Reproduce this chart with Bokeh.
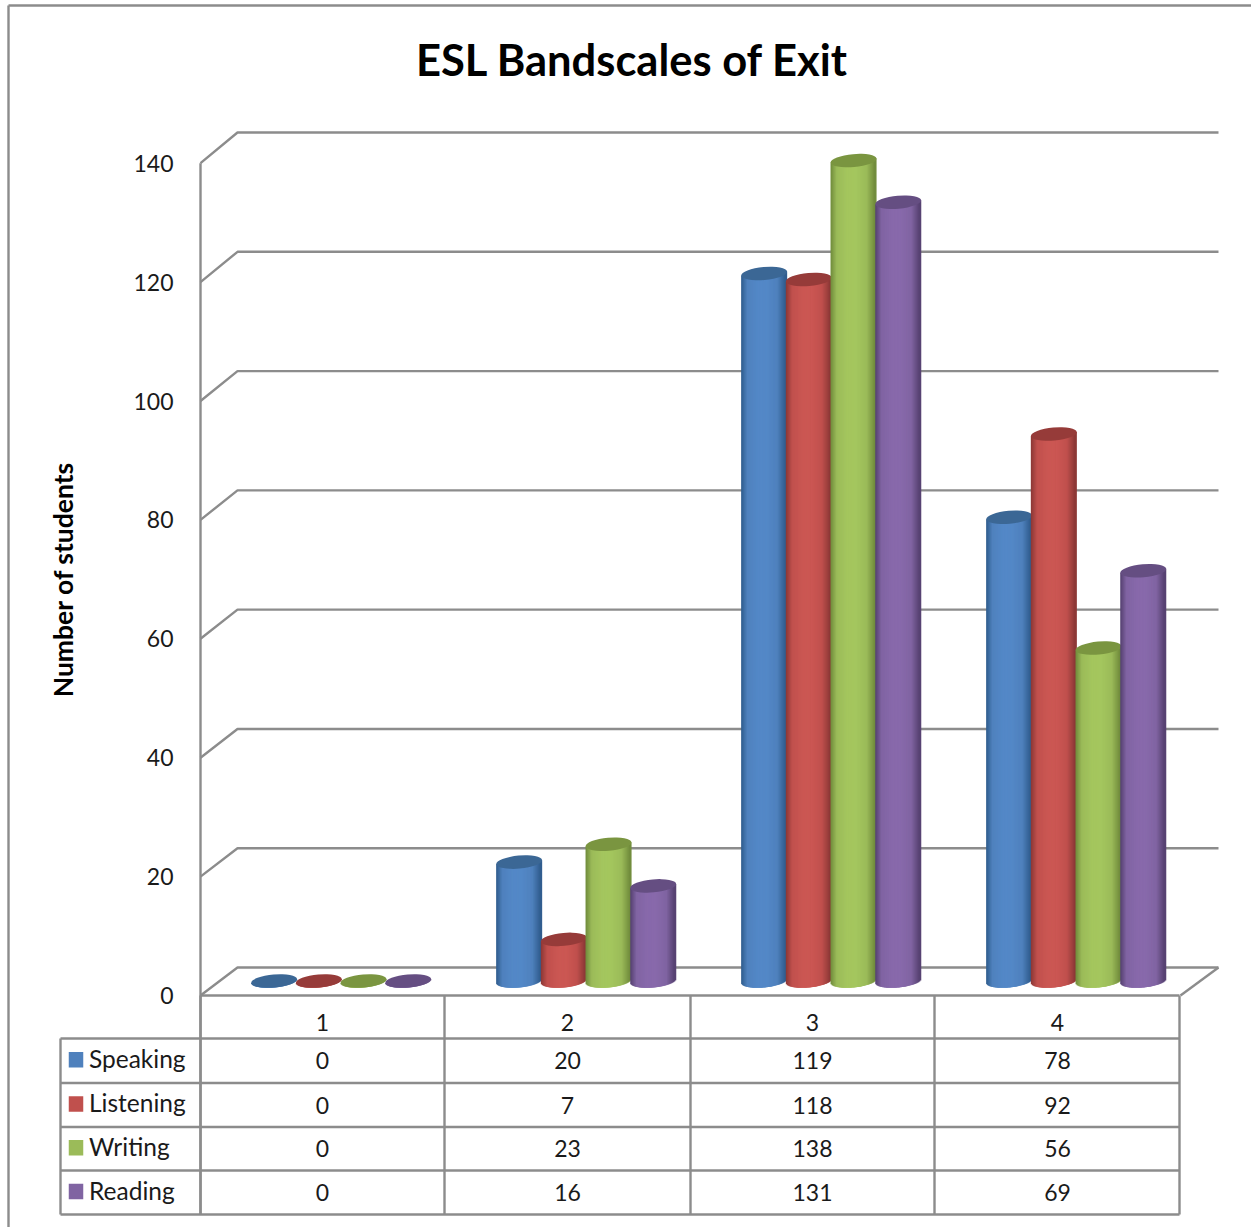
from bokeh.core.properties import value
from bokeh.embed import file_html
from bokeh.models import FixedTicker, LinearAxis, Range1d
from bokeh.plotting import figure
from bokeh.resources import INLINE
import numpy as np

# Chart data
title = "ESL Bandscales of Exit"
y_title = "Number of students"
bands = ["1", "2", "3", "4"]
speaking = [0, 20, 119, 78]
listening = [0, 7, 118, 92]
writing = [0, 23, 138, 56]
reading = [0, 16, 131, 69]
series_names = ["Speaking", "Listening", "Writing", "Reading"]
y_ticks = [0, 20, 40, 60, 80, 100, 120, 140]

series_values = [speaking, listening, writing, reading]
base_colors = ["#4f81bd", "#c0504d", "#9bbb59", "#8064a2"]
light_colors = ["#5388c7", "#cb5753", "#a4c65e", "#8869ab"]
edge_colors = ["#2f5b8c", "#8a3735", "#6f8a3b", "#54406f"]
cap_colors = ["#3b6795", "#963b39", "#7a9540", "#654e82"]

WIDTH, HEIGHT = 1251, 1227
PX_PER_BAND = 245.0
BAND1_PX = 322.0
PX_PER_UNIT = 5.945
ZERO_PX = 995.0
GRID = "#8c8c8c"
FONT = "Lato"
INK = "#1a1a1a"


def x_of(px):
    return 1 + (px - BAND1_PX) / PX_PER_BAND


def y_of(px):
    return (ZERO_PX - px) / PX_PER_UNIT


p = figure(
    width=WIDTH, height=HEIGHT, output_backend="svg", toolbar_location=None,
    x_range=Range1d(x_of(0), x_of(WIDTH)), y_range=Range1d(y_of(HEIGHT), y_of(0)),
    min_border=0, tools="", x_axis_type=None, y_axis_type=None,
    background_fill_color="white", border_fill_color="white", outline_line_color=None,
)
p.grid.visible = False


def rule(xs, ys, width=2.4):
    p.line([x_of(x) for x in xs], [y_of(y) for y in ys], line_color=GRID, line_width=width)


# Outer chart border
rule([8, 8], [1227, 5], 2.4)
rule([8, 1251], [5, 5], 2.4)

# Back wall, side wall and floor of the box
BACK_X = 237
BACK_ZERO_PX = 967.0
BACK_PX_PER_UNIT = 5.964
for v in y_ticks:
    front_px = ZERO_PX - v * PX_PER_UNIT
    back_px = BACK_ZERO_PX - v * BACK_PX_PER_UNIT
    rule([200, BACK_X, 1218], [front_px, back_px, back_px])
rule([200, 200], [ZERO_PX - 140 * PX_PER_UNIT, 1214])
rule([1218, 1180], [BACK_ZERO_PX, ZERO_PX])

# Data table grid
row_px = [995, 1038, 1082.5, 1126.5, 1170, 1214]
col_px = [200, 444, 690, 934, 1179]
rule([200, 1179], [row_px[0], row_px[0]], 2.6)
for y in row_px[1:]:
    rule([60, 1179], [y, y])
for x in col_px:
    rule([x, x], [995, 1214])
rule([60, 60], [row_px[1], row_px[-1]])

# Cylinders: vertical shaded strips under an elliptical cap
BAR_W = 46.0
BAR_STEP = 44.7
CENTER_SHIFT = 18.7
FLOOR_PX = 980.5
CAP_H = 13.0
CAP_TILT = np.radians(5)
STRIP_W = 2.5
strip_u = (np.arange(BAR_W) + 0.5) / BAR_W * 2 - 1
SHADE_STOPS = [-1.0, -0.72, -0.25, 0.15, 0.62, 1.0]


def shade(i):
    stops = [edge_colors[i], base_colors[i], light_colors[i], light_colors[i], base_colors[i], edge_colors[i]]
    rgb = np.array([[int(c[k:k + 2], 16) for k in (1, 3, 5)] for c in stops], dtype=float)
    mix = np.stack([np.interp(strip_u, SHADE_STOPS, rgb[:, k]) for k in range(3)], axis=1)
    return ["#%02x%02x%02x" % tuple(int(round(c)) for c in row) for row in mix]


floor_units = (ZERO_PX - FLOOR_PX) / PX_PER_UNIT
half_cap = CAP_H / 2 / PX_PER_UNIT
tilt_units = np.tan(CAP_TILT) * (BAR_W / 2) / PX_PER_UNIT

for i, vals in enumerate(series_values):
    colors = shade(i)
    for b, v in enumerate(vals):
        center_px = BAND1_PX + b * PX_PER_BAND + CENTER_SHIFT + (i - 1.5) * BAR_STEP
        # Strips overlap by more than a pixel so their antialiased edges stay opaque
        strip_x = [x_of(center_px + u * (BAR_W - STRIP_W + 1) / 2) for u in strip_u]
        tilt = strip_u * tilt_units
        lower = floor_units + tilt - half_cap * np.sqrt(1 - strip_u ** 2)
        upper = floor_units + v + tilt
        p.vbar(
            x=strip_x, width=STRIP_W / PX_PER_BAND, bottom=list(lower), top=list(upper),
            fill_color=colors, fill_alpha=1.0, line_color=None,
        )
        p.ellipse(
            x=[x_of(center_px)], y=[floor_units + v], width=BAR_W, height=CAP_H,
            width_units="screen", height_units="screen", angle=CAP_TILT,
            fill_color=cap_colors[i], fill_alpha=1.0, line_color=None,
        )

# Value axis, with its labels on the front plane of the box
y_axis = LinearAxis(
    ticker=FixedTicker(ticks=y_ticks), fixed_location=x_of(200),
    axis_line_color=None, major_tick_line_color=None, minor_tick_line_color=None,
    major_label_standoff=21, major_label_text_font=FONT, major_label_text_font_size="23px",
    major_label_text_color=INK,
)
p.add_layout(y_axis, "left")

# Band labels along the top row of the table
x_axis = LinearAxis(
    ticker=FixedTicker(ticks=[1, 2, 3, 4]), fixed_location=y_of(995),
    major_label_overrides={i + 1: b for i, b in enumerate(bands)},
    axis_line_color=None, major_tick_line_color=None, minor_tick_line_color=None,
    major_label_standoff=12, major_label_text_font=FONT, major_label_text_font_size="23px",
    major_label_text_color=INK,
)
p.add_layout(x_axis, "below")

# Data table contents and legend keys
row_mid = [(row_px[k] + row_px[k + 1]) / 2 for k in range(1, 5)]
for r, name in enumerate(series_names):
    cy = row_mid[r]
    p.rect(
        x=[x_of(75.5)], y=[y_of(cy - 1)], width=14.5, height=15.5,
        width_units="screen", height_units="screen",
        fill_color=base_colors[r], fill_alpha=1.0, line_color=None,
    )
    p.text(
        x=[x_of(88.5)], y=[y_of(cy - 2.5)], text=[name], text_font=value(FONT), text_font_size="24.5px",
        text_align="left", text_baseline="middle", text_color=INK,
    )
    p.text(
        x=[1, 2, 3, 4], y=[y_of(cy)] * 4, text=[str(v) for v in series_values[r]],
        text_font=value(FONT), text_font_size="23px", text_align="center",
        text_baseline="middle", text_color=INK,
    )

# Titles
p.text(
    x=[x_of(632)], y=[y_of(58)], text=[title], text_font=value(FONT), text_font_size="43.5px",
    text_font_style="bold", text_align="center", text_baseline="middle", text_color="black",
)
p.text(
    x=[x_of(62)], y=[y_of(579)], text=[y_title], text_font=value(FONT), text_font_size="26.5px",
    text_font_style="bold", text_align="center", text_baseline="middle", text_color="black",
    angle=np.pi / 2,
)

open("out.html", "w").write(file_html(p, INLINE))
